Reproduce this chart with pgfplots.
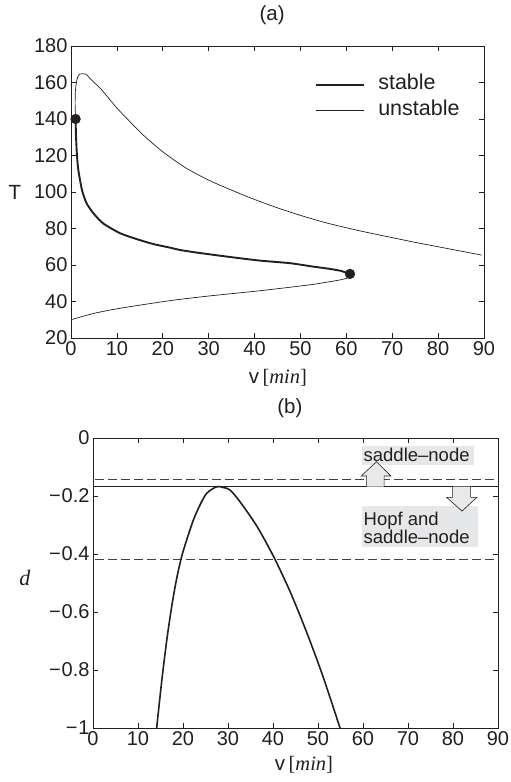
\documentclass[border=0pt]{standalone}
\usepackage{fontspec}
\setmainfont{Liberation Sans}
\newfontfamily\seriffont{Liberation Serif}
\usepackage{pgfplots}
\pgfplotsset{compat=1.18}

\definecolor{ink}{HTML}{231F20}
\definecolor{boxgray}{HTML}{E6E7E8}
\definecolor{arrowgray}{HTML}{E9E9EA}

\newcommand{\tickfont}{\fontsize{20}{20}\selectfont}
\newcommand{\labfont}{\fontsize{20.5}{20.5}\selectfont}
\newcommand{\mn}{−\kern0.8pt}

\pgfplotsset{
  panel/.style={
    scale only axis,
    anchor=south west,
    axis line style={ink, line width=0.8pt},
    tick align=inside,
    major tick length=5pt,
    tick style={ink, line width=0.6pt},
    ticklabel style={font=\tickfont, text=ink},
    /pgf/number format/assume math mode=true,
    xmin=0, xmax=90, xtick={0,10,...,90},
  }
}

\begin{document}
\begin{tikzpicture}
\useasboundingbox (0,0) rectangle (511pt,782pt);

% ---------- (a) ----------
\begin{axis}[panel,
    at={(71pt,444pt)}, width=413pt, height=292pt,
    ymin=20, ymax=180, ytick={20,40,...,180},
    title={(a)}, xlabel={v\,{\seriffont[\textit{min}]}}, ylabel={T},
    every axis title/.style={at={(axis description cs:0.487,1.106)}, anchor=center, font=\labfont, text=ink},
    every axis x label/.style={at={(axis description cs:0.501,-0.137)}, anchor=center, font=\labfont, text=ink},
    every axis y label/.style={at={(axis description cs:-0.136,0.497)}, anchor=center, font=\labfont, text=ink},
    legend image code/.code={\draw[#1] (0pt,0pt) -- (48pt,0pt);},
    legend style={at={(axis description cs:0.584,0.909)}, anchor=north west,
      draw=none, fill=none, font=\fontsize{21.5}{21.5}\selectfont, text=ink,
      nodes={inner sep=0pt, text height=15pt, text depth=5pt},
      row sep=6pt, /tikz/every odd column/.append style={column sep=13pt}},
    legend cell align=left,
  ]
  % stable branch
  \addplot[ink, line width=1.9pt, smooth, tension=0.4] coordinates {
    (60.8,55.1) (58.6,56.9) (55.5,58.2) (52.8,59.1) (47.7,61.0) (41.2,62.4)
    (34.6,64.4) (28,66.6) (23.8,68.2) (21.6,69.5) (17.9,71.5) (14.3,74.2)
    (10.7,77.4) (7.0,82.8) (4.9,88.3) (3.4,93.8) (2.4,101) (1.6,112)
    (1.3,120) (1.1,130) (1.0,140)
  };
  \addlegendentry{stable}
  % unstable, upper branch
  \addplot[ink, line width=0.7pt, smooth, tension=0.4] coordinates {
    (1.0,140) (0.9,148) (0.95,155) (1.15,159.5) (1.45,163) (1.9,164.6)
    (3.2,164.6) (4.5,161.3) (6.7,155.9) (10,146.0) (13.2,137.6) (16,130.6)
    (20,122.0) (25,113.2) (30,106.5) (35,101.0) (40,95.9) (45,91.3)
    (50,87.2) (55,83.5) (60,80.4) (65,77.6) (70,75) (75,72.4) (80,70.0)
    (85,67.6) (89.5,65.4)
  };
  \addlegendentry{unstable}
  % unstable, lower branch
  \addplot[ink, line width=0.7pt, smooth, tension=0.4, forget plot] coordinates {
    (0,30) (5,33.5) (10,36) (15,38) (20,39.9) (23.8,41.2) (30,43) (35,44.3)
    (41.2,45.9) (47.7,47.8) (52.8,49.4) (56,50.7) (58.6,51.8) (60.3,53)
    (60.8,55.1)
  };
  % bifurcation points
  \addplot[only marks, mark=*, mark size=4.9pt, ink, forget plot] coordinates {
    (1.0,140) (60.8,55.1)
  };
\end{axis}

% ---------- (b) ----------
\begin{axis}[panel,
    at={(93pt,54pt)}, width=405pt, height=290pt,
    ymin=-1, ymax=0, ytick={-1,-0.8,-0.6,-0.4,-0.2,0},
    yticklabels={\mn1,\mn0.8,\mn0.6,\mn0.4,\mn0.2,0},
    title={(b)}, xlabel={v\,{\seriffont[\textit{min}]}}, ylabel={\seriffont\textit{d}},
    every axis title/.style={at={(axis description cs:0.486,1.103)}, anchor=center, font=\labfont, text=ink},
    every axis x label/.style={at={(axis description cs:0.521,-0.128)}, anchor=center, font=\labfont, text=ink},
    every axis y label/.style={at={(axis description cs:-0.168,0.517)}, anchor=center, font=\fontsize{22}{22}\selectfont, text=ink},
  ]
  \addplot[ink!85, line width=0.7pt, dash pattern=on 9pt off 4pt] coordinates {(0.5,-0.142) (90,-0.142)};
  \addplot[ink!85, line width=0.7pt, dash pattern=on 9pt off 4pt] coordinates {(0.5,-0.417) (90,-0.417)};
  \addplot[ink, line width=1.3pt] coordinates {(0,-0.168) (90,-0.168)};
  \addplot[ink, line width=1.6pt, smooth, tension=0.5] coordinates {
    (14.15,-1) (15.26,-0.840) (16.37,-0.700) (17.48,-0.582) (18.59,-0.485)
    (19.70,-0.409) (20.81,-0.352) (22.30,-0.283) (23.78,-0.231) (25.26,-0.191)
    (27.48,-0.168) (29.0,-0.171) (30.44,-0.179) (32.67,-0.220) (36.37,-0.303)
    (40.07,-0.407) (43.78,-0.529) (47.48,-0.670) (51.19,-0.826) (54.89,-1)
  };
  % annotations
  \fill[boxgray] (axis cs:59.7,-0.028) rectangle (axis cs:84.7,-0.093);
  \fill[boxgray] (axis cs:59.7,-0.234) rectangle (axis cs:85.5,-0.377);
  \fill[arrowgray] (axis cs:60.8,-0.168) -- (axis cs:60.8,-0.131) -- (axis cs:59.6,-0.131)
    -- (axis cs:63.0,-0.082) -- (axis cs:66.2,-0.131) -- (axis cs:64.7,-0.131)
    -- (axis cs:64.7,-0.168) -- cycle;
  \draw[ink, line width=0.6pt] (axis cs:60.8,-0.168) -- (axis cs:60.8,-0.131) -- (axis cs:59.6,-0.131)
    -- (axis cs:63.0,-0.082) -- (axis cs:66.2,-0.131) -- (axis cs:64.7,-0.131)
    -- (axis cs:64.7,-0.168);
  \fill[arrowgray] (axis cs:79.9,-0.168) -- (axis cs:79.9,-0.205) -- (axis cs:78.6,-0.205)
    -- (axis cs:82.0,-0.252) -- (axis cs:85.3,-0.205) -- (axis cs:83.9,-0.205)
    -- (axis cs:83.9,-0.168) -- cycle;
  \draw[ink, line width=0.6pt] (axis cs:79.9,-0.168) -- (axis cs:79.9,-0.205) -- (axis cs:78.6,-0.205)
    -- (axis cs:82.0,-0.252) -- (axis cs:85.3,-0.205) -- (axis cs:83.9,-0.205)
    -- (axis cs:83.9,-0.168);
  \node[anchor=west, inner sep=0pt, font=\fontsize{18.5}{18.4}\selectfont, text=ink]
    at (axis cs:60.1,-0.059) {saddle–node};
  \node[anchor=west, inner sep=0pt, align=left, font=\fontsize{18.5}{18.4}\selectfont, text=ink]
    at (axis cs:60.1,-0.309) {Hopf and\\saddle–node};
\end{axis}
\end{tikzpicture}
\end{document}
